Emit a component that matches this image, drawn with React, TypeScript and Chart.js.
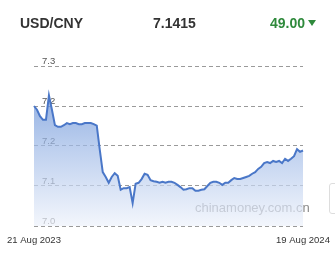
import React, { useEffect, useRef } from "react";
import { Chart, registerables } from "chart.js";

Chart.register(...registerables);

const pairName = "USD/CNY";
const lastRate = "7.1415";
const changeText = "49.00";
const watermark = "chinamoney.com.cn";
const xStartLabel = "21 Aug 2023";
const xEndLabel = "19 Aug 2024";

const rates = [
  7.225, 7.218, 7.206, 7.199, 7.199, 7.245, 7.218, 7.189, 7.186, 7.186,
  7.189, 7.193, 7.191, 7.193, 7.193, 7.191, 7.191, 7.193, 7.193, 7.193,
  7.191, 7.188, 7.143, 7.101, 7.092, 7.081, 7.092, 7.099, 7.094, 7.068,
  7.071, 7.071, 7.073, 7.043, 7.079, 7.081, 7.088, 7.098, 7.096, 7.086,
  7.084, 7.083, 7.081, 7.083, 7.081, 7.083, 7.083, 7.081, 7.077, 7.073,
  7.068, 7.069, 7.071, 7.071, 7.066, 7.066, 7.068, 7.069, 7.075, 7.081,
  7.083, 7.083, 7.081, 7.077, 7.081, 7.081, 7.086, 7.09, 7.088, 7.088,
  7.09, 7.092, 7.094, 7.098, 7.101, 7.107, 7.111, 7.118, 7.12, 7.118,
  7.122, 7.12, 7.122, 7.118, 7.126, 7.122, 7.126, 7.131, 7.144, 7.139,
  7.1415,
];

const yTickValues = [7.0, 7.075, 7.15, 7.225, 7.3];
const yTickLabels = ["7.0", "7.1", "7.2", "7.2", "7.3"];

const categories = rates.map((_, i) => String(i));

const FONT = "'Liberation Sans', Arial, sans-serif";

const watermarkPlugin = {
  id: "watermark",
  beforeDatasetsDraw(chart: any) {
    const { ctx, chartArea } = chart;
    ctx.save();
    ctx.font = `13px ${FONT}`;
    ctx.fillStyle = "#8a8a8a";
    ctx.textAlign = "left";
    ctx.textBaseline = "alphabetic";
    ctx.fillText(watermark, chartArea.right - 108, chartArea.bottom - 14.5);
    ctx.restore();
  },
};

export default function App() {
  const canvasRef = useRef<HTMLCanvasElement | null>(null);

  useEffect(() => {
    document.body.style.margin = "0";
    const canvas = canvasRef.current;
    if (!canvas) return;
    const chart = new Chart(canvas, {
      type: "line",
      data: {
        labels: categories,
        datasets: [
          {
            data: rates,
            borderColor: "#4a77c8",
            borderWidth: 2,
            pointRadius: 0,
            tension: 0,
            fill: "start",
            backgroundColor: (c: any) => {
              const area = c.chart.chartArea;
              if (!area) return "rgba(68,118,204,0.5)";
              const g = c.chart.ctx.createLinearGradient(0, area.top, 0, area.bottom);
              g.addColorStop(0, "rgba(68,118,204,0.7)");
              g.addColorStop(0.5, "rgba(159,186,231,0.7)");
              g.addColorStop(1, "rgba(238,242,251,0.7)");
              return g;
            },
          },
        ],
      },
      options: {
        animation: false,
        responsive: false,
        devicePixelRatio: 1,
        layout: { padding: { left: 34, right: 32, top: 66, bottom: 18 } },
        plugins: { legend: { display: false }, tooltip: { enabled: false }, title: { display: false } },
        scales: {
          x: {
            type: "category",
            grid: { display: false, drawTicks: false },
            border: { display: false },
            afterFit: (s: any) => {
              s.height = 20;
              s.paddingLeft = 0;
              s.paddingRight = 0;
            },
            ticks: {
              autoSkip: false,
              maxRotation: 0,
              minRotation: 0,
              padding: 8.5,
              color: "#333",
              font: { family: FONT, size: 9.5 },
              callback: (_v: any, i: number) =>
                i === 0 ? xStartLabel : i === rates.length - 1 ? xEndLabel : "",
            },
          },
          y: {
            min: 7.0,
            max: 7.3,
            border: { display: false, dash: [4, 3] },
            grid: {
              color: "#9a9a9a",
              lineWidth: 1,
              drawTicks: false,
            },
            afterFit: (s: any) => {
              s.width = 0;
              s.paddingTop = 0;
              s.paddingBottom = 0;
            },
            afterBuildTicks: (scale: any) => {
              scale.ticks = yTickValues.map((v) => ({ value: v }));
            },
            ticks: {
              mirror: true,
              padding: 8,
              labelOffset: -5,
              color: "#555",
              font: { family: FONT, size: 9.5 },
              callback: (v: any) => {
                const idx = yTickValues.findIndex((t) => Math.abs(t - Number(v)) < 1e-6);
                return idx >= 0 ? yTickLabels[idx] : "";
              },
            },
          },
        },
      } as any,
      plugins: [watermarkPlugin],
    });
    return () => chart.destroy();
  }, []);

  const textBase: React.CSSProperties = {
    position: "absolute",
    top: 15,
    fontFamily: FONT,
    fontSize: 14,
    fontWeight: "bold",
    lineHeight: "16px",
    whiteSpace: "nowrap",
  };

  return (
    <div style={{ position: "fixed", left: 0, top: 0, width: 335, height: 264, background: "#fff" }}>
      <canvas ref={canvasRef} width={335} height={264} style={{ position: "absolute", left: 0, top: 0 }} />
      <div style={{ ...textBase, left: 20, color: "#333" }}>{pairName}</div>
      <div style={{ ...textBase, left: 153, color: "#333" }}>{lastRate}</div>
      <div style={{ ...textBase, left: 270, color: "#2f8a3c" }}>{changeText}</div>
      <div
        style={{
          position: "absolute",
          left: 308,
          top: 20,
          width: 0,
          height: 0,
          borderLeft: "4.5px solid transparent",
          borderRight: "4.5px solid transparent",
          borderTop: "6px solid #2f8a3c",
        }}
      />
      <div
        style={{
          position: "absolute",
          left: 329,
          top: 183,
          width: 12,
          height: 29,
          border: "1px solid #ddd",
          borderRadius: 3,
        }}
      />
    </div>
  );
}
